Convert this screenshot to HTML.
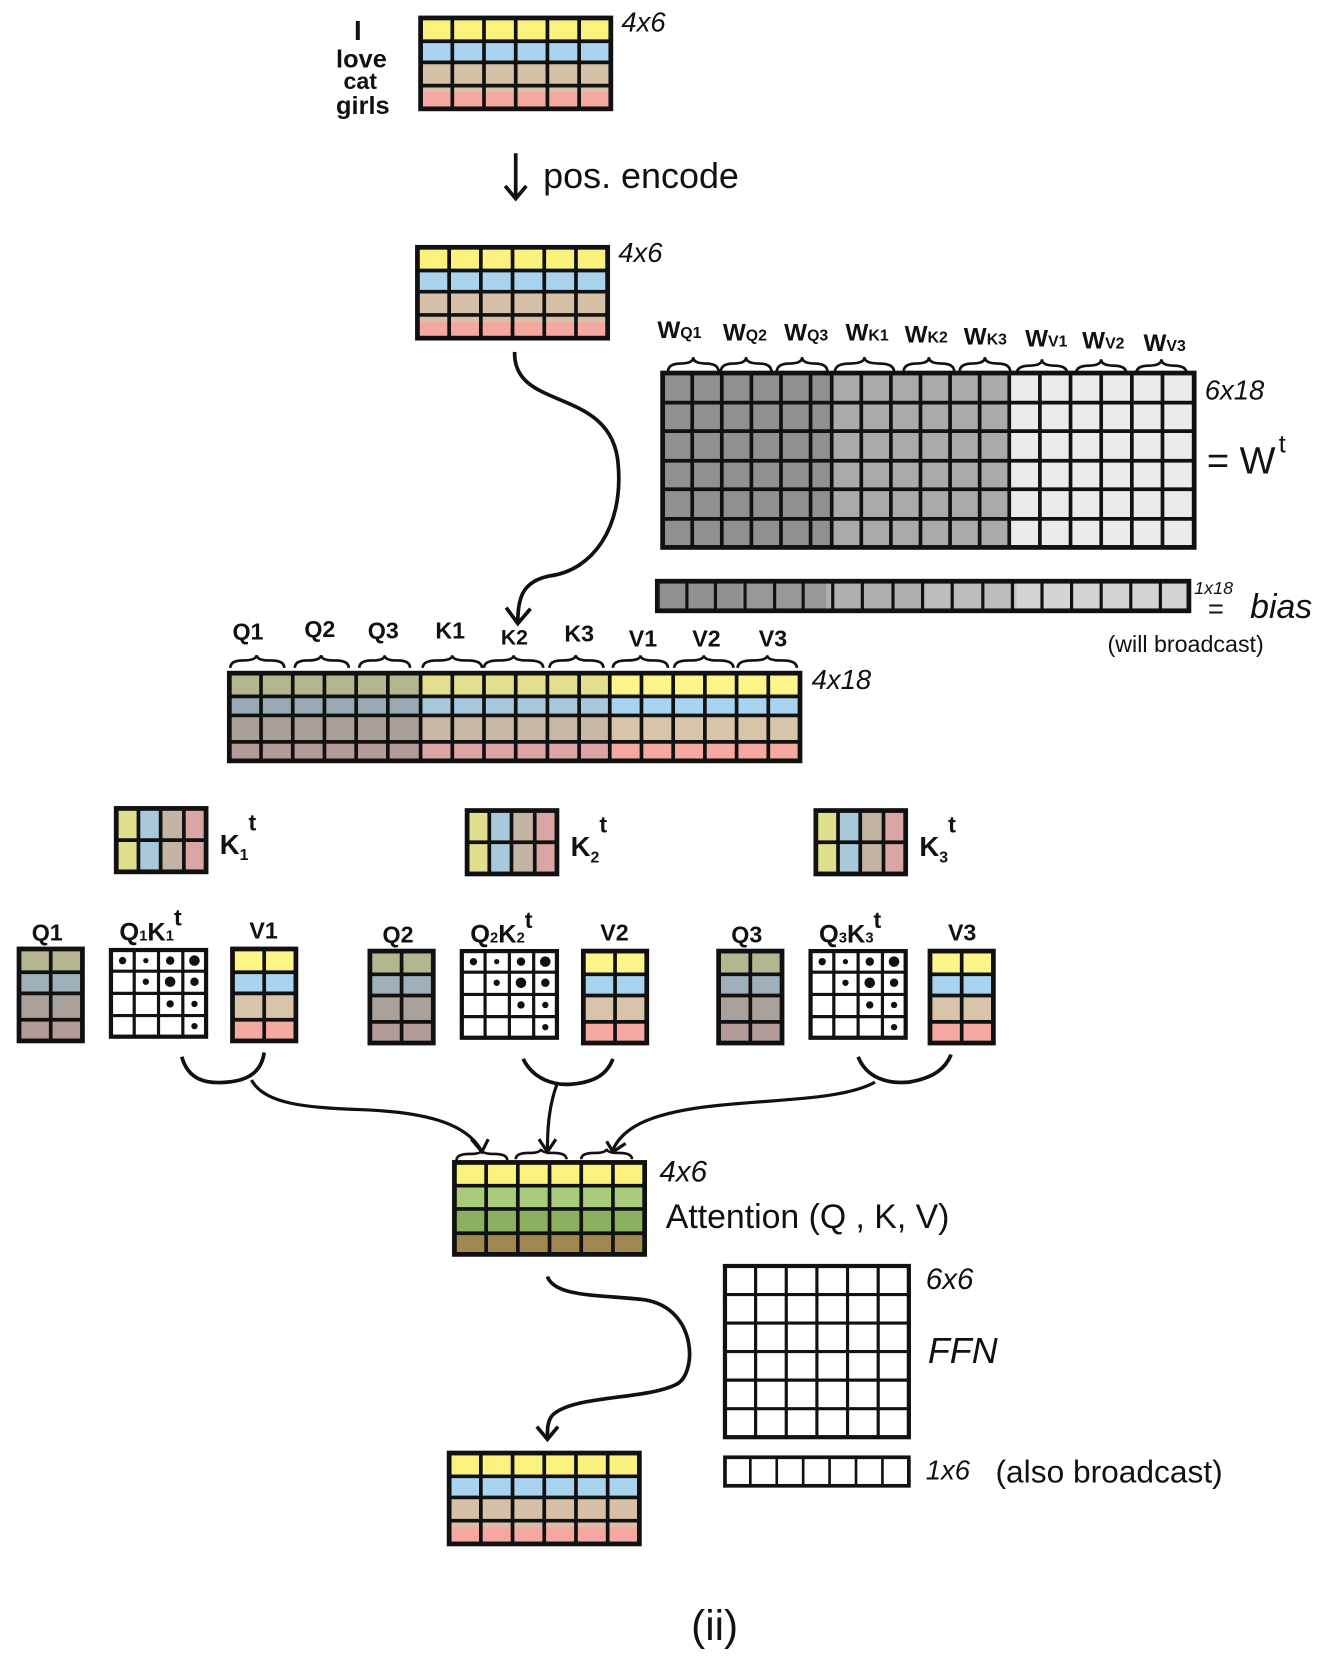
<!DOCTYPE html>
<html><head><meta charset="utf-8"><style>
html,body{margin:0;padding:0;background:#fff;}
svg{display:block;}
text{font-family:"Liberation Sans",sans-serif;fill:#111;}
</style></head><body>
<svg width="1321" height="1657" viewBox="0 0 1250 1568" preserveAspectRatio="none" xmlns="http://www.w3.org/2000/svg">
<defs>
<g id="m46">
<rect x="0" y="0" width="180" height="22" fill="#fbf27e"/>
<rect x="0" y="22" width="180" height="20" fill="#a9d3ef"/>
<rect x="0" y="42" width="180" height="28" fill="#d6c0a8"/>
<rect x="0" y="70" width="180" height="16" fill="#f5a8a0"/>
<path d="M30 0V86M60 0V86M90 0V86M120 0V86M150 0V86M0 22H180M0 42H180M0 64H180" stroke="#111" stroke-width="3.5" fill="none"/>
<rect x="0" y="0" width="180" height="86" fill="none" stroke="#111" stroke-width="4.5"/>
</g>
<g id="kt">
<rect x="0" y="0" width="21" height="60" fill="#e0df8e"/>
<rect x="21" y="0" width="21" height="60" fill="#a8c8dc"/>
<rect x="42" y="0" width="22" height="60" fill="#c4b4a4"/>
<rect x="64" y="0" width="21" height="60" fill="#d9a5a5"/>
<path d="M21 0V60M42 0V60M64 0V60M0 30H85" stroke="#111" stroke-width="3.5"/>
<rect x="0" y="0" width="85" height="60" fill="none" stroke="#111" stroke-width="4.5"/>
</g>
<g id="q">
<rect x="0" y="0" width="60" height="22" fill="#b5b58f"/>
<rect x="0" y="22" width="60" height="20" fill="#9fb0bb"/>
<rect x="0" y="42" width="60" height="25" fill="#aaa19b"/>
<rect x="0" y="67" width="60" height="20" fill="#b59a9a"/>
<path d="M30 0V87M0 22H60M0 42H60M0 67H60" stroke="#111" stroke-width="3.5"/>
<rect x="0" y="0" width="60" height="87" fill="none" stroke="#111" stroke-width="4.5"/>
</g>
<g id="v">
<rect x="0" y="0" width="60" height="22" fill="#fdf58a"/>
<rect x="0" y="22" width="60" height="20" fill="#a8d4ef"/>
<rect x="0" y="42" width="60" height="25" fill="#d8c4a8"/>
<rect x="0" y="67" width="60" height="20" fill="#f5a9a0"/>
<path d="M30 0V87M0 22H60M0 42H60M0 67H60" stroke="#111" stroke-width="3.5"/>
<rect x="0" y="0" width="60" height="87" fill="none" stroke="#111" stroke-width="4.5"/>
</g>
<g id="qk">
<rect x="0" y="0" width="90" height="82" fill="#fff" stroke="#111" stroke-width="4"/>
<path d="M22 0V82M45 0V82M68 0V82M0 20H90M0 41H90M0 62H90" stroke="#111" stroke-width="3"/>
<circle cx="11" cy="10" r="3.5" fill="#111"/><circle cx="33" cy="10" r="2.5" fill="#111"/><circle cx="56" cy="10" r="4" fill="#111"/><circle cx="79" cy="10" r="5" fill="#111"/>
<circle cx="33" cy="30" r="3" fill="#111"/><circle cx="56" cy="30" r="5" fill="#111"/><circle cx="79" cy="30" r="4" fill="#111"/>
<circle cx="56" cy="51" r="3.5" fill="#111"/><circle cx="79" cy="51" r="3" fill="#111"/>
<circle cx="79" cy="72" r="3" fill="#111"/>
</g>
</defs>

<!-- top -->
<text x="335" y="38" font-size="26" font-weight="bold">I</text>
<text x="318" y="64" font-size="24" font-weight="bold">love</text>
<text x="325" y="84" font-size="22" font-weight="bold">cat</text>
<text x="318" y="108" font-size="24" font-weight="bold">girls</text>
<use href="#m46" x="398" y="17"/>
<text x="588" y="30" font-size="26" font-style="italic">4x6</text>
<path d="M488 145V186M478 176L488 188L498 176" stroke="#111" stroke-width="3.5" fill="none"/>
<text x="514" y="178" font-size="34">pos. encode</text>
<use href="#m46" x="395" y="234"/>
<text x="585" y="248" font-size="26" font-style="italic">4x6</text>

<!-- weights -->
<text x="622" y="320" font-size="23" font-weight="bold">W<tspan font-size="15">Q1</tspan></text>
<text x="684" y="322" font-size="23" font-weight="bold">W<tspan font-size="15">Q2</tspan></text>
<text x="742" y="322" font-size="23" font-weight="bold">W<tspan font-size="15">Q3</tspan></text>
<text x="800" y="322" font-size="23" font-weight="bold">W<tspan font-size="15">K1</tspan></text>
<text x="856" y="324" font-size="23" font-weight="bold">W<tspan font-size="15">K2</tspan></text>
<text x="912" y="326" font-size="23" font-weight="bold">W<tspan font-size="15">K3</tspan></text>
<text x="970" y="328" font-size="23" font-weight="bold">W<tspan font-size="15">V1</tspan></text>
<text x="1024" y="330" font-size="23" font-weight="bold">W<tspan font-size="15">V2</tspan></text>
<text x="1082" y="332" font-size="23" font-weight="bold">W<tspan font-size="15">V3</tspan></text>
<path d="M632 352q0-8 12-8t12-6q0 6 12 6t12 8 M682 352q0-8 12-8t12-6q0 6 12 6t12 8 M735 352q0-8 12-8t12-6q0 6 12 6t12 8 M790 352q0-8 14-8t14-6q0 6 14 6t14 8 M855 352q0-8 12-8t12-6q0 6 12 6t12 8 M908 352q0-8 12-8t12-6q0 6 12 6t12 8 M962 354q0-8 12-8t12-6q0 6 12 6t12 8 M1018 354q0-8 12-8t12-6q0 6 12 6t12 8 M1075 354q0-8 12-8t12-6q0 6 12 6t12 8" stroke="#111" stroke-width="2.5" fill="none"/>
<rect x="627" y="353" width="160" height="165" fill="#909090"/>
<rect x="787" y="353" width="168" height="165" fill="#aaaaaa"/>
<rect x="955" y="353" width="175" height="165" fill="#ebebeb"/>
<path d="M655 353V518M683 353V518M711 353V518M739 353V518M767 353V518M787 353V518M815 353V518M843 353V518M871 353V518M899 353V518M927 353V518M955 353V518M984 353V518M1013 353V518M1042 353V518M1071 353V518M1100 353V518 M627 381H1130M627 408H1130M627 436H1130M627 463H1130M627 491H1130" stroke="#111" stroke-width="3.5"/>
<rect x="627" y="353" width="503" height="165" fill="none" stroke="#111" stroke-width="4.5"/>
<text x="1140" y="378" font-size="26" font-style="italic">6x18</text>
<text x="1142" y="448" font-size="36">= W</text>
<text x="1210" y="428" font-size="24">t</text>

<rect x="622" y="550" width="80" height="28" fill="#909090"/>
<rect x="702" y="550" width="80" height="28" fill="#989898"/>
<rect x="782" y="550" width="90" height="28" fill="#b0b0b0"/>
<rect x="872" y="550" width="90" height="28" fill="#bdbdbd"/>
<rect x="962" y="550" width="163" height="28" fill="#d4d4d4"/>
<path d="M650 550V578M677 550V578M705 550V578M733 550V578M760 550V578M788 550V578M816 550V578M845 550V578M873 550V578M901 550V578M930 550V578M958 550V578M986 550V578M1014 550V578M1042 550V578M1070 550V578M1098 550V578" stroke="#111" stroke-width="3"/>
<rect x="622" y="550" width="503" height="28" fill="none" stroke="#111" stroke-width="4.5"/>
<text x="1130" y="562" font-size="17" font-style="italic">1x18</text>
<text x="1143" y="585" font-size="26">=</text>
<text x="1183" y="585" font-size="32" font-style="italic">bias</text>
<text x="1048" y="617" font-size="22">(will broadcast)</text>

<!-- curved arrow -->
<path d="M487 333C485 390 580 365 585 440C590 500 560 540 520 545C495 550 490 565 490 588" stroke="#111" stroke-width="3.5" fill="none"/>
<path d="M479 575L490 590L502 576" stroke="#111" stroke-width="3.5" fill="none"/>

<!-- 4x18 -->
<text x="220" y="605" font-size="22" font-weight="bold">Q1</text>
<text x="288" y="603" font-size="22" font-weight="bold">Q2</text>
<text x="348" y="604" font-size="22" font-weight="bold">Q3</text>
<text x="412" y="604" font-size="22" font-weight="bold">K1</text>
<text x="474" y="610" font-size="20" font-weight="bold">K2</text>
<text x="534" y="607" font-size="22" font-weight="bold">K3</text>
<text x="595" y="612" font-size="22" font-weight="bold">V1</text>
<text x="655" y="612" font-size="22" font-weight="bold">V2</text>
<text x="718" y="612" font-size="22" font-weight="bold">V3</text>
<path d="M218 632q0-7 12-7t13-5q0 5 13 5t13 7 M279 632q0-7 12-7t13-5q0 5 13 5t13 7 M340 632q0-7 12-7t12-5q0 5 12 5t12 7 M400 632q0-7 14-7t14-5q0 5 14 5t14 7 M458 632q0-7 14-7t14-5q0 5 14 5t14 7 M520 632q0-7 12-7t13-5q0 5 13 5t13 7 M580 632q0-7 13-7t13-5q0 5 13 5t13 7 M638 632q0-7 14-7t14-5q0 5 14 5t14 7 M698 632q0-7 14-7t14-5q0 5 14 5t14 7" stroke="#111" stroke-width="2.5" fill="none"/>
<rect x="217" y="637" width="181" height="22" fill="#b5b58f"/>
<rect x="217" y="659" width="181" height="18" fill="#9aaab5"/>
<rect x="217" y="677" width="181" height="27" fill="#aaa09a"/>
<rect x="217" y="704" width="181" height="16" fill="#b59a9a"/>
<rect x="398" y="637" width="179" height="22" fill="#e2e08e"/>
<rect x="398" y="659" width="179" height="18" fill="#a8c8dc"/>
<rect x="398" y="677" width="179" height="27" fill="#c8b8a5"/>
<rect x="398" y="704" width="179" height="16" fill="#dca5a5"/>
<rect x="577" y="637" width="180" height="22" fill="#fdf58a"/>
<rect x="577" y="659" width="180" height="18" fill="#a8d4ef"/>
<rect x="577" y="677" width="180" height="27" fill="#d8c4a8"/>
<rect x="577" y="704" width="180" height="16" fill="#f5a9a0"/>
<path d="M247 637V720M277 637V720M307 637V720M337 637V720M367 637V720M398 637V720M428 637V720M458 637V720M488 637V720M518 637V720M548 637V720M577 637V720M607 637V720M637 637V720M667 637V720M697 637V720M727 637V720M217 659H757M217 677H757M217 702H757" stroke="#111" stroke-width="3.5"/>
<rect x="217" y="637" width="540" height="83" fill="none" stroke="#111" stroke-width="4.5"/>
<text x="768" y="652" font-size="26" font-style="italic">4x18</text>

<!-- Kt -->
<use href="#kt" x="110" y="765"/>
<text x="208" y="808" font-size="26" font-weight="bold">K<tspan font-size="15" dy="6">1</tspan><tspan font-size="22" dy="-28">t</tspan></text>
<use href="#kt" x="442" y="767"/>
<text x="540" y="810" font-size="26" font-weight="bold">K<tspan font-size="15" dy="6">2</tspan><tspan font-size="22" dy="-28">t</tspan></text>
<use href="#kt" x="772" y="767"/>
<text x="870" y="810" font-size="26" font-weight="bold">K<tspan font-size="15" dy="6">3</tspan><tspan font-size="22" dy="-28">t</tspan></text>

<!-- groups -->
<text x="30" y="890" font-size="22" font-weight="bold">Q1</text>
<text x="113" y="890" font-size="24" font-weight="bold">Q<tspan font-size="14">1</tspan>K<tspan font-size="14">1</tspan><tspan font-size="22" dy="-14">t</tspan></text>
<text x="236" y="888" font-size="22" font-weight="bold">V1</text>
<use href="#q" x="18" y="898"/><use href="#qk" x="105" y="899"/><use href="#v" x="220" y="898"/>

<text x="362" y="892" font-size="22" font-weight="bold">Q2</text>
<text x="445" y="892" font-size="24" font-weight="bold">Q<tspan font-size="14">2</tspan>K<tspan font-size="14">2</tspan><tspan font-size="22" dy="-14">t</tspan></text>
<text x="568" y="890" font-size="22" font-weight="bold">V2</text>
<use href="#q" x="350" y="900"/><use href="#qk" x="437" y="900"/><use href="#v" x="552" y="900"/>

<text x="692" y="892" font-size="22" font-weight="bold">Q3</text>
<text x="775" y="892" font-size="24" font-weight="bold">Q<tspan font-size="14">3</tspan>K<tspan font-size="14">3</tspan><tspan font-size="22" dy="-14">t</tspan></text>
<text x="897" y="890" font-size="22" font-weight="bold">V3</text>
<use href="#q" x="680" y="900"/><use href="#qk" x="767" y="900"/><use href="#v" x="880" y="900"/>

<!-- merge curves -->
<path d="M172 1000C178 1022 195 1026 215 1024C240 1022 248 1010 250 996" stroke="#111" stroke-width="3.5" fill="none"/>
<path d="M238 1022C250 1045 290 1048 340 1050C400 1052 440 1062 455 1088" stroke="#111" stroke-width="3" fill="none"/>
<path d="M495 1002C505 1022 525 1027 540 1026C565 1024 575 1015 580 1002" stroke="#111" stroke-width="3.5" fill="none"/>
<path d="M527 1026C520 1045 518 1065 518 1088" stroke="#111" stroke-width="3" fill="none"/>
<path d="M812 1000C820 1020 840 1026 860 1024C885 1020 895 1010 900 998" stroke="#111" stroke-width="3.5" fill="none"/>
<path d="M828 1024C800 1040 740 1040 680 1046C620 1052 590 1065 580 1088" stroke="#111" stroke-width="3" fill="none"/>
<path d="M446 1078L456 1090L462 1078M510 1078L518 1090L526 1078M574 1080L580 1090L592 1082" stroke="#111" stroke-width="3" fill="none"/>
<path d="M432 1098q0-6 12-6t12-4q0 4 12 4t12 6 M488 1097q0-6 12-6t12-4q0 4 12 4t12 6 M550 1097q0-6 12-6t12-4q0 4 12 4t12 6" stroke="#111" stroke-width="2.5" fill="none"/>

<!-- attention -->
<rect x="430" y="1100" width="180" height="22" fill="#fbf27e"/>
<rect x="430" y="1122" width="180" height="22" fill="#a8cc7a"/>
<rect x="430" y="1144" width="180" height="23" fill="#8db060"/>
<rect x="430" y="1167" width="180" height="20" fill="#a08850"/>
<path d="M460 1100V1187M490 1100V1187M520 1100V1187M550 1100V1187M580 1100V1187M430 1122H610M430 1144H610M430 1167H610" stroke="#111" stroke-width="3.5"/>
<rect x="430" y="1100" width="180" height="87" fill="none" stroke="#111" stroke-width="4.5"/>
<text x="624" y="1118" font-size="28" font-style="italic">4x6</text>
<text x="630" y="1162" font-size="32">Attention (Q , K, V)</text>

<!-- FFN -->
<rect x="686" y="1198" width="174" height="162" fill="#fff" stroke="#111" stroke-width="4"/>
<path d="M715 1198V1360M744 1198V1360M773 1198V1360M802 1198V1360M831 1198V1360M686 1225H860M686 1252H860M686 1279H860M686 1306H860M686 1333H860" stroke="#111" stroke-width="3"/>
<text x="876" y="1220" font-size="28" font-style="italic">6x6</text>
<text x="878" y="1290" font-size="34" font-style="italic">FFN</text>
<rect x="686" y="1379" width="174" height="27" fill="#fff" stroke="#111" stroke-width="3.5"/>
<path d="M710 1379V1406M735 1379V1406M760 1379V1406M785 1379V1406M810 1379V1406M835 1379V1406" stroke="#111" stroke-width="2.5"/>
<text x="876" y="1400" font-size="26" font-style="italic">1x6</text>
<text x="942" y="1403" font-size="30">(also broadcast)</text>

<!-- final arrow -->
<path d="M518 1208C525 1228 570 1225 610 1230C660 1238 660 1300 640 1310C610 1325 540 1320 522 1340C518 1346 518 1352 518 1360" stroke="#111" stroke-width="3.5" fill="none"/>
<path d="M508 1350L518 1362L528 1350" stroke="#111" stroke-width="3.5" fill="none"/>
<use href="#m46" x="425" y="1375"/>

<text x="654" y="1552" font-size="40">(ii)</text>
</svg>
</body></html>
